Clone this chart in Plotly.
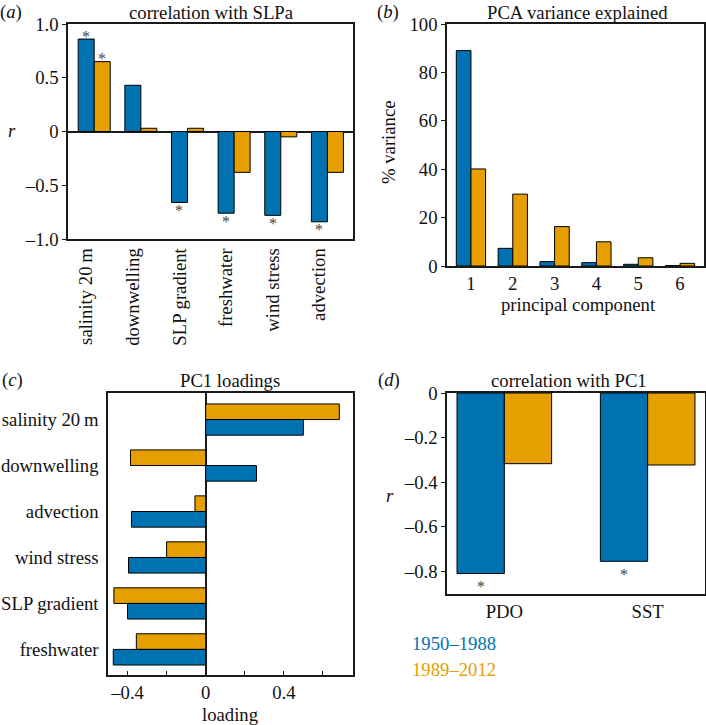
import plotly.graph_objects as go

BLUE = "#0072B2"
ORANGE = "#E69F00"
W, H = 706, 725
FONT = "Liberation Serif"
FS = 18.7
LINE = "#1a1a1a"

# ---------------- data ----------------
a_cats = ["salinity 20\u2009m", "downwelling", "SLP gradient", "freshwater", "wind stress", "advection"]
a_early = [0.86, 0.43, -0.66, -0.76, -0.78, -0.84]
a_late = [0.65, 0.03, 0.03, -0.38, -0.05, -0.38]
a_sig_early = [1, 0, 1, 1, 1, 1]
a_sig_late = [1, 0, 0, 0, 0, 0]
a_ticks = [-1.0, -0.5, 0, 0.5, 1.0]
a_ticktext = ["\u20131.0", "\u20130.5", "0", "0.5", "1.0"]

b_pcs = [1, 2, 3, 4, 5, 6]
b_early = [89.0, 7.3, 1.8, 1.4, 0.7, 0.15]
b_late = [40.1, 29.7, 16.3, 10.0, 3.4, 1.1]
b_ticks = [0, 20, 40, 60, 80, 100]

c_cats = ["salinity 20\u2009m", "downwelling", "advection", "wind stress", "SLP gradient", "freshwater"]
c_early = [0.50, 0.26, -0.38, -0.395, -0.40, -0.473]
c_late = [0.684, -0.385, -0.055, -0.20, -0.47, -0.355]
c_ticks = [-0.4, -0.2, 0, 0.2, 0.4, 0.6]
c_ticktext = ["\u20130.4", "", "0", "", "0.4", ""]

d_cats = ["PDO", "SST"]
d_early = [-0.81, -0.755]
d_late = [-0.317, -0.323]
d_sig_early = [1, 1]
d_ticks = [-0.8, -0.6, -0.4, -0.2, 0]
d_ticktext = ["\u20130.8", "\u20130.6", "\u20130.4", "\u20130.2", "0"]

periods = ["1950\u20131988", "1989\u20132012"]


def dx(l, r):
    return [l / W, r / W]


def dy(t, b):
    return [1 - b / H, 1 - t / H]


def px(x):
    return x / W


def py(y):
    return 1 - y / H


bar_line = dict(color="black", width=1)
fig = go.Figure()

# ---------------- panel a ----------------
wa = 0.343
xa = list(range(len(a_cats)))
fig.add_trace(go.Bar(x=xa, y=a_early, width=wa, offset=-wa / 2, marker=dict(color=BLUE, line=bar_line),
                     xaxis="x", yaxis="y", showlegend=False, hoverinfo="skip"))
fig.add_trace(go.Bar(x=xa, y=a_late, width=wa, offset=wa / 2, marker=dict(color=ORANGE, line=bar_line),
                     xaxis="x", yaxis="y", showlegend=False, hoverinfo="skip"))

# ---------------- panel b ----------------
wb = 0.35
fig.add_trace(go.Bar(x=b_pcs, y=b_early, width=wb, offset=-wb, marker=dict(color=BLUE, line=bar_line),
                     xaxis="x2", yaxis="y2", showlegend=False, hoverinfo="skip"))
fig.add_trace(go.Bar(x=b_pcs, y=b_late, width=wb, offset=0, marker=dict(color=ORANGE, line=bar_line),
                     xaxis="x2", yaxis="y2", showlegend=False, hoverinfo="skip"))

# ---------------- panel c ----------------
wc = 0.34
yc = list(range(len(c_cats)))
fig.add_trace(go.Bar(y=yc, x=c_late, width=wc, offset=-wc, orientation="h",
                     marker=dict(color=ORANGE, line=bar_line), xaxis="x3", yaxis="y3", showlegend=False,
                     hoverinfo="skip"))
fig.add_trace(go.Bar(y=yc, x=c_early, width=wc, offset=0, orientation="h",
                     marker=dict(color=BLUE, line=bar_line), xaxis="x3", yaxis="y3", showlegend=False,
                     hoverinfo="skip"))

# ---------------- panel d ----------------
wd = 0.33
xd = list(range(len(d_cats)))
fig.add_trace(go.Bar(x=xd, y=d_early, width=wd, offset=-wd, marker=dict(color=BLUE, line=bar_line),
                     xaxis="x4", yaxis="y4", showlegend=False, hoverinfo="skip"))
fig.add_trace(go.Bar(x=xd, y=d_late, width=wd, offset=0, marker=dict(color=ORANGE, line=bar_line),
                     xaxis="x4", yaxis="y4", showlegend=False, hoverinfo="skip"))

tickfont = dict(family=FONT, size=FS, color="#111")
common = dict(showline=True, linecolor=LINE, linewidth=1.5, mirror=True, showgrid=False,
              tickfont=tickfont, zeroline=False, fixedrange=True, automargin=False)

layout = dict(
    template="none",
    width=W, height=H, margin=dict(l=0, r=0, t=0, b=0, pad=0),
    paper_bgcolor="white", plot_bgcolor="white", barmode="overlay",
    font=dict(family=FONT, size=FS, color="#111"),
    xaxis=dict(domain=dx(68, 353), range=[-0.39, 5.72], tickvals=xa, ticktext=a_cats, tickangle=-90,
               ticks="", anchor="y", **common),
    yaxis=dict(domain=dy(24, 239), range=[-1, 1], tickvals=a_ticks, ticktext=a_ticktext,
               ticks="outside", ticklen=4, tickcolor=LINE, anchor="x", **common),
    xaxis2=dict(domain=dx(447, 704), range=[0.427, 6.573], tickvals=b_pcs, ticks="", anchor="y2", **common),
    yaxis2=dict(domain=dy(24, 266), range=[0, 100], tickvals=b_ticks, ticks="outside", ticklen=4,
                tickcolor=LINE, anchor="x2", **common),
    xaxis3=dict(domain=dx(108, 353), range=[-0.50, 0.754], tickvals=c_ticks, ticktext=c_ticktext,
                ticks="inside", ticklen=4, tickcolor=LINE, anchor="y3", **common),
    yaxis3=dict(domain=dy(393, 675), range=[5.557, -0.578], tickvals=yc, ticktext=c_cats, ticks="",
                anchor="x3", ticklabelstandoff=4, **common),
    xaxis4=dict(domain=dx(447, 705), range=[-0.4, 1.4], tickvals=xd, ticktext=d_cats, ticks="", anchor="y4",
                **common),
    yaxis4=dict(domain=dy(393, 594), range=[-0.9017, 0], tickvals=d_ticks, ticktext=d_ticktext,
                ticks="outside", ticklen=4, tickcolor=LINE, anchor="x4", **common),
)
layout["yaxis"].update(zeroline=True, zerolinecolor=LINE, zerolinewidth=1.5)
layout["xaxis3"].update(zeroline=True, zerolinecolor=LINE, zerolinewidth=1.5)
fig.update_layout(**layout)

ann = []


def text(x, y, s, size=FS, color="#111", xanchor="center", yanchor="middle", angle=0):
    ann.append(dict(x=px(x), y=py(y), xref="paper", yref="paper", text=s, showarrow=False,
                    xanchor=xanchor, yanchor=yanchor, textangle=angle,
                    font=dict(family=FONT, size=size, color=color)))


# titles & panel labels
text(211, 12, "correlation with SLPa")
text(577, 12, "PCA variance explained")
text(230, 380, "PC1 loadings")
text(569, 380, "correlation with PC1")
text(11, 12, "(<i>a</i>)")
text(388, 12, "(<i>b</i>)")
text(12, 380, "(<i>c</i>)")
text(389, 380, "(<i>d</i>)")
# axis titles
text(12, 131, "<i>r</i>")
text(388, 142, "% variance", angle=-90)
text(578, 305, "principal component")
text(230, 714, "loading")
text(390, 495, "<i>r</i>")
# legend text
text(410, 643, periods[0], color=BLUE, xanchor="left")
text(410, 669, periods[1], color=ORANGE, xanchor="left")


def star(xref, yref, x, y, shift):
    ann.append(dict(x=x, y=y, xref=xref, yref=yref, text="*", showarrow=False, xanchor="center",
                    yanchor="middle", yshift=shift, font=dict(family=FONT, size=16, color="#444")))


for i, (v, s) in enumerate(zip(a_early, a_sig_early)):
    if s:
        star("x", "y", xa[i], v, 3 if v > 0 else -8)
for i, (v, s) in enumerate(zip(a_late, a_sig_late)):
    if s:
        star("x", "y", xa[i] + wa, v, 3 if v > 0 else -8)
for i, (v, s) in enumerate(zip(d_early, d_sig_early)):
    if s:
        star("x4", "y4", xd[i] - wd / 2, v, -13)

fig.update_layout(annotations=ann)
fig.write_html("out.html", config={"displayModeBar": False},
               post_script="document.body.style.margin='0';document.body.style.overflow='hidden';")
